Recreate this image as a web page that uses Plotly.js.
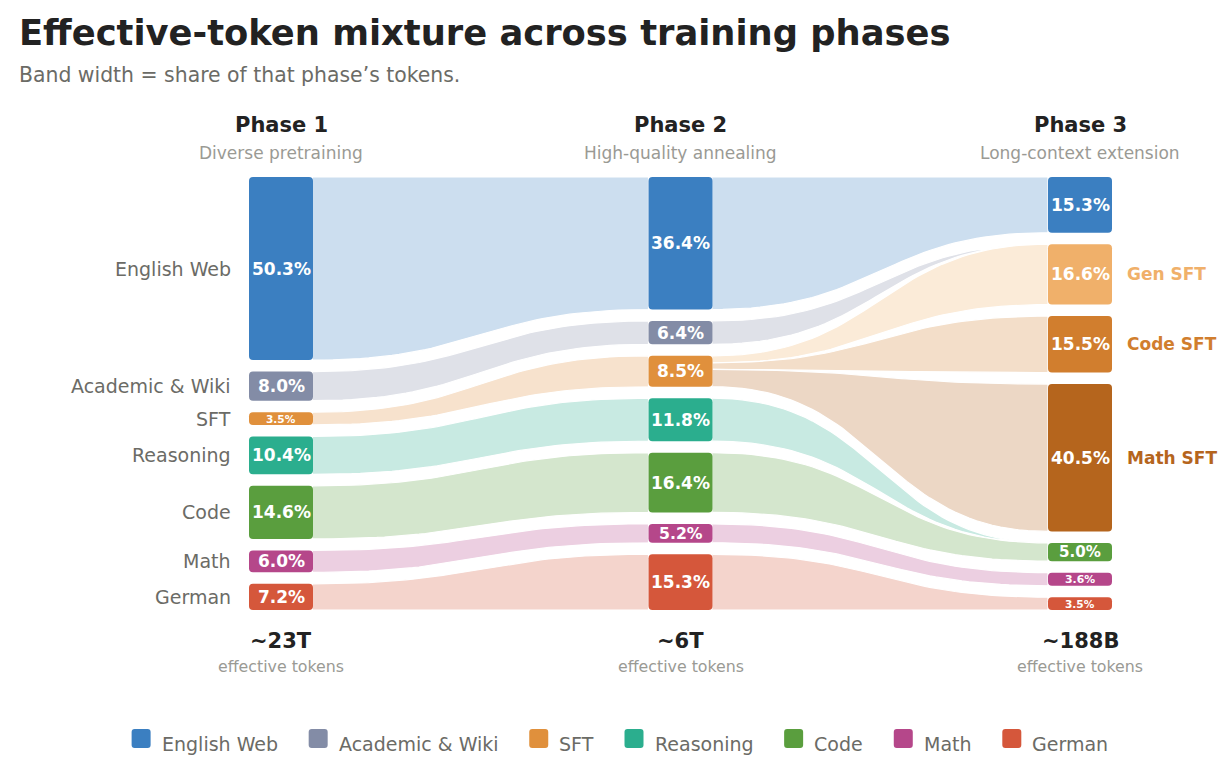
<!DOCTYPE html>
<html><head><meta charset="utf-8">
<script src="https://cdn.plot.ly/plotly-3.0.1.min.js"></script>
<style>html,body{margin:0;padding:0;background:#fff}</style>
</head><body><div id="chart" style="width:1232px;height:780px"></div>
<script>
// ---------------- data ----------------
const categories = ['English Web','Academic & Wiki','SFT','Reasoning','Code','Math','German'];
const phase1Share = [50.3, 8.0, 3.5, 10.4, 14.6, 6.0, 7.2];
const phase2Share = [36.4, 6.4, 8.5, 11.8, 16.4, 5.2, 15.3];
const phase3Nodes = ['English Web','Gen SFT','Code SFT','Math SFT','Code','Math','German'];
const phase3Share = [15.3, 16.6, 15.5, 40.5, 5.0, 3.6, 3.5];
// phase 2 -> phase 3 flows (value = share of phase 3)
const link23Source = ['English Web','Academic & Wiki','SFT','SFT','SFT','Reasoning','Code','Math','German'];
const link23Target = ['English Web','Gen SFT','Gen SFT','Code SFT','Math SFT','Code','Code','Math','German'];
const link23Value  = [15.3, 0, 16.6, 15.5, 40.5, 0, 5.0, 3.6, 3.5];
const phaseNames = ['Phase 1','Phase 2','Phase 3'];
const phaseSubtitles = ['Diverse pretraining','High-quality annealing','Long-context extension'];
const phaseTokens = ['~23T','~6T','~188B'];
const sideLabeled = ['Gen SFT','Code SFT','Math SFT'];

// ---------------- style ----------------
const categoryColors = ['#3b7fc1','#838ca6','#e0903c','#2bae8e','#5a9e3e','#b5478a','#d5573b'];
const sftColors = {'Gen SFT':'#f0b06a','Code SFT':'#d17e2e','Math SFT':'#b5651d'};
const FONT = 'DejaVu Sans, Verdana, sans-serif';
const W = 1232, H = 780;
const X_PX = 399.5, X0_PX = 281;      // px per phase step, px of phase 1 centre
const Y_PX = 3.64, Y0_PX = 177;       // px per percent, px of stack top
const GAP = 11.5 / Y_PX;
const NODE_HALF = 32 / X_PX;
const BAND_ALPHA = 0.26;

function nodeColor3(name){
  if (sftColors[name]) return sftColors[name];
  return categoryColors[categories.indexOf(name)];
}
function rgba(hex, a){
  const n = parseInt(hex.slice(1),16);
  return `rgba(${(n>>16)&255},${(n>>8)&255},${n&255},${a})`;
}
function stack(values){
  let acc = 0;
  return values.map((v,i)=>{ const top = acc + i*GAP; acc += v; return {top, bot: top + v}; });
}
const st1 = stack(phase1Share), st2 = stack(phase2Share), st3 = stack(phase3Share);

const traces = [];
function band(xL, lt, lb, xR, rt, rb, color, name){
  const xm = (xL + xR)/2, n = 48;
  const xs = [], ys = [];
  const edge = (y0, y1, t) => {
    const a = (1-t)*(1-t)*(1-t) + 3*(1-t)*(1-t)*t;
    return a*y0 + (1-a)*y1;
  };
  const ex = t => (1-t)**3*xL + 3*(1-t)**2*t*xm + 3*(1-t)*t*t*xm + t**3*xR;
  for (let k=0;k<=n;k++){ const t=k/n; xs.push(ex(t)); ys.push(edge(lt, rt, t)); }
  for (let k=n;k>=0;k--){ const t=k/n; xs.push(ex(t)); ys.push(edge(lb, rb, t)); }
  traces.push({type:'scatter', mode:'lines', x:xs, y:ys, fill:'toself',
    fillcolor: rgba(color, BAND_ALPHA), line:{color:'#ffffff', width:1.2},
    hoverinfo:'text', text:name, showlegend:false});
}

// phase 1 -> 2
categories.forEach((c,i)=>{
  band(0+NODE_HALF, st1[i].top, st1[i].bot, 1-NODE_HALF, st2[i].top, st2[i].bot, categoryColors[i], c);
});
// phase 2 -> 3
const srcOut = {}; link23Source.forEach((s,k)=>{ srcOut[s] = (srcOut[s]||0) + link23Value[k]; });
const srcOff = {}, tgtOff = {};
const later = [];
link23Source.forEach((s,k)=>{
  const si = categories.indexOf(s), ti = phase3Nodes.indexOf(link23Target[k]);
  const v = link23Value[k];
  let lt, lb;
  if (srcOut[s] === 0){ lt = st2[si].top; lb = st2[si].bot; }
  else {
    const o = srcOff[s] || 0;
    const w = phase2Share[si] * v / srcOut[s];
    lt = st2[si].top + o; lb = lt + w; srcOff[s] = o + w;
  }
  const to = tgtOff[ti] || 0;
  const rt = st3[ti].top + to, rb = rt + v; tgtOff[ti] = to + v;
  const color = (v > 0 && sftColors[link23Target[k]]) ? sftColors[link23Target[k]] : categoryColors[si];
  const item = [1+NODE_HALF, lt, lb, 2-NODE_HALF, rt, rb, color, s + ' → ' + link23Target[k]];
  if (v === 0) band(...item); else later.push(item);
});
later.forEach(it => band(...it));

// nodes
const shapes = [], annotations = [];
function roundRect(x0, x1, y0, y1, color, xref, yref, rxv, ryv){
  const ry = Math.min(ryv, (y1-y0)/2), rx = rxv;
  const p = `M ${x0+rx},${y0} L ${x1-rx},${y0} Q ${x1},${y0} ${x1},${y0+ry} L ${x1},${y1-ry} Q ${x1},${y1} ${x1-rx},${y1} L ${x0+rx},${y1} Q ${x0},${y1} ${x0},${y1-ry} L ${x0},${y0+ry} Q ${x0},${y0} ${x0+rx},${y0} Z`;
  shapes.push({type:'path', path:p, xref, yref, fillcolor:color, line:{width:0}, layer:'above'});
}
function addNodes(phase, st, values, colors){
  st.forEach((s,i)=>{
    roundRect(phase-NODE_HALF, phase+NODE_HALF, s.top, s.bot, colors[i], 'x', 'y', 4/X_PX, 4/Y_PX);
    const hpx = values[i]*Y_PX;
    const fs = Math.min(17, 0.83*hpx);
    annotations.push({x:phase, y:(s.top+s.bot)/2, xref:'x', yref:'y', showarrow:false,
      text:'<b>'+values[i].toFixed(1)+'%</b>', font:{family:FONT, size:fs, color:'#ffffff'},
      xanchor:'center', yanchor:'middle'});
  });
}
addNodes(0, st1, phase1Share, categoryColors);
addNodes(1, st2, phase2Share, categoryColors);
addNodes(2, st3, phase3Share, phase3Nodes.map(nodeColor3));

// left labels
categories.forEach((c,i)=>{
  annotations.push({x:0-NODE_HALF, y:(st1[i].top+st1[i].bot)/2, xref:'x', yref:'y', xshift:-16,
    showarrow:false, text:c, xanchor:'right', yanchor:'middle',
    font:{family:FONT, size:19, color:'#6b6b66'}});
});
// right side labels
phase3Nodes.forEach((c,i)=>{
  if (!sideLabeled.includes(c)) return;
  annotations.push({x:2+NODE_HALF, y:(st3[i].top+st3[i].bot)/2, xref:'x', yref:'y', xshift:13,
    showarrow:false, text:'<b>'+c+'</b>', xanchor:'left', yanchor:'middle',
    font:{family:FONT, size:17, color:nodeColor3(c)}});
});

const py = px => 1 - px/H;
// headers/footers
phaseNames.forEach((p,i)=>{
  annotations.push({x:i, xref:'x', y:py(125.5), yref:'paper', showarrow:false, text:'<b>'+p+'</b>',
    xanchor:'center', yanchor:'middle', font:{family:FONT, size:21, color:'#222222'}});
  annotations.push({x:i, xref:'x', y:py(153), yref:'paper', showarrow:false, text:phaseSubtitles[i],
    xanchor:'center', yanchor:'middle', font:{family:FONT, size:17, color:'#9a9a94'}});
  annotations.push({x:i, xref:'x', y:py(641), yref:'paper', showarrow:false, text:'<b>'+phaseTokens[i]+'</b>',
    xanchor:'center', yanchor:'middle', font:{family:FONT, size:21, color:'#222222'}});
  annotations.push({x:i, xref:'x', y:py(666), yref:'paper', showarrow:false, text:'effective tokens',
    xanchor:'center', yanchor:'middle', font:{family:FONT, size:15.8, color:'#9a9a94'}});
});
// title
annotations.push({x:17/W, xref:'paper', y:py(33), yref:'paper', showarrow:false,
  text:'<b>Effective-token mixture across training phases</b>', xanchor:'left', yanchor:'middle',
  font:{family:FONT, size:35.3, color:'#222222'}});
annotations.push({x:17/W, xref:'paper', y:py(75), yref:'paper', showarrow:false,
  text:'Band width = share of that phase’s tokens.', xanchor:'left', yanchor:'middle',
  font:{family:FONT, size:20.4, color:'#6b6b66'}});

// custom legend
const LEG_FS = 19;
const ctx = document.createElement('canvas').getContext('2d');
ctx.font = LEG_FS + 'px "DejaVu Sans"';
const SQ = 19, TXT_OFF = 30, ITEM_GAP = 31;
const widths = categories.map(c => ctx.measureText(c).width);
const total = widths.reduce((a,w)=>a + TXT_OFF + w, 0) + ITEM_GAP*(categories.length-1);
let lx = 620 - total/2;
categories.forEach((c,i)=>{
  const x0 = lx/W, x1 = (lx+SQ)/W, y0 = py(729), y1 = py(748);
  roundRect(x0, x1, y1, y0, categoryColors[i], 'paper', 'paper', 3/W, 3/H);
  annotations.push({x:(lx+TXT_OFF-2)/W, xref:'paper', y:py(744), yref:'paper', showarrow:false,
    text:c, xanchor:'left', yanchor:'middle', font:{family:FONT, size:LEG_FS, color:'#6b6b66'}});
  lx += TXT_OFF + widths[i] + ITEM_GAP;
});

const layout = {
  width:W, height:H, margin:{l:0,r:0,t:0,b:0}, paper_bgcolor:'#ffffff', plot_bgcolor:'#ffffff',
  showlegend:false,
  xaxis:{range:[(0-X0_PX)/X_PX, (W-X0_PX)/X_PX], visible:false, fixedrange:true},
  yaxis:{range:[(H-Y0_PX)/Y_PX, (0-Y0_PX)/Y_PX], visible:false, fixedrange:true},
  shapes, annotations, hovermode:'closest'
};
Plotly.newPlot('chart', traces, layout, {displayModeBar:false, staticPlot:true});
</script></body></html>
